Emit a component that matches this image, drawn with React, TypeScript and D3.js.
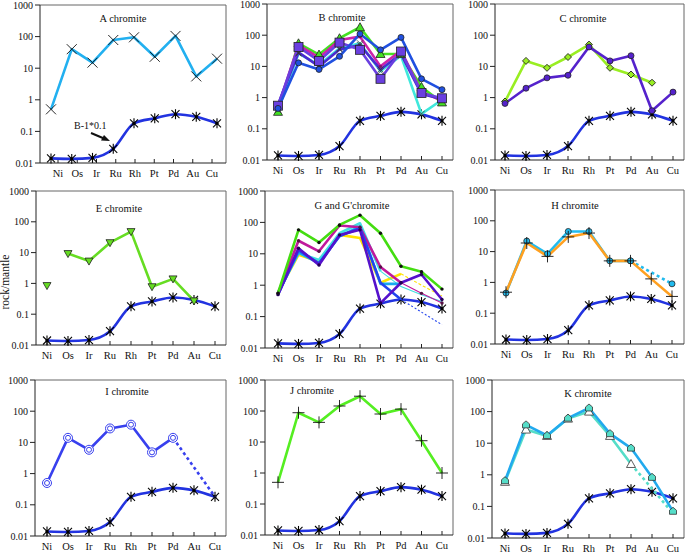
import React from "react";
import * as d3 from "d3";

const categories = ["Ni", "Os", "Ir", "Ru", "Rh", "Pt", "Pd", "Au", "Cu"];
const yTicks = [0.01, 0.1, 1, 10, 100, 1000];
const yTickLabels = ["0.01", "0.1", "1", "10", "100", "1000"];
const N = null;

// reference curve (B-1 * 0.1)
const reference = [0.014, 0.0135, 0.0145, 0.028, 0.18, 0.26, 0.35, 0.29, 0.18];

const aChromite = [0.5, 40, 15, 78, 95, 23, 105, 5.5, 20];

const bGreen = [0.35, 55, 24, 80, 180, 25, 25, 2.2, 0.7];
const bMagenta = [0.5, 48, 19, 70, 90, 10, 32, 1.5, 0.8];
const bCyan = [0.4, 26, 11, 38, 55, 7, 22, 0.3, 0.85];
const bIndigo = [0.6, 28, 10, 35, 48, 8, 25, 1.3, 0.9];
const bPurple = [0.55, 42, 15, 58, 34, 4, 30, 1.4, 0.95];
const bBlue = [0.45, 13, 8, 21, 110, 34, 85, 4, 1.8];

const cGreen = [0.75, 15, 9, 20, 50, 9, 5.5, 3, N];
const cPurple = [0.65, 2, 4.3, 5.2, 42, 15, 22, 0.38, 1.5];

const eGreenNi = [0.85, N, N, N, N, N, N, N, N];
const eGreen = [N, 9.3, 5.3, 21, 48, 0.78, 1.4, 0.27, N];

const gGreen = [0.56, 58, 23, 83, 170, 45, 4, 2.7, 0.75];
const gMagenta = [0.55, 26, 12, 80, 70, 3.8, 1.2, 0.55, 0.27];
const gCyan = [0.6, 10.5, 6.4, 45, 94, 2.8, 0.9, 0.5, 0.3];
const gYellow = [0.6, 9.3, 5.7, 40, 32, 1.2, 2.3, 1.0, 0.45];
const gSky = [0.55, 11, 5, 36, 75, 1.1, 1.1, N, N];
const gBlue = [0.5, 13, 5, 37, 65, 1.2, 0.35, N, 0.055];
const gIndigo = [0.5, 15, 4.4, 40, 58, 0.27, 1.2, 2.2, 0.35];

const hSky = [0.45, 22, 8.5, 45, 45, 5, 5, N, N];
const hSkyDotted = [N, N, N, N, N, N, 5, N, 0.9];
const hOrange = [0.48, 19, 7, 30, 40, 5, 5, 1.3, 0.35];

const iBlue = [0.5, 14, 5.8, 28, 37, 4.8, 14, N, N];
const iBlueDotted = [N, N, N, N, N, N, 14, N, 0.18];

const jGreen = [0.5, 88, 43, 145, 300, 80, 115, 11, 1.0];

const kSky = [0.65, 38, 17.5, 62, 130, 20, 7, 0.83, 0.07];
const kAqua = [0.6, 27, 17, 60, 100, 17, 2.2, N, N];
const kAquaDotted = [N, N, N, N, N, N, 2.2, N, 0.06];

type V = (number | null)[];
interface Series {
  values: V;
  color: string;
  width?: number;
  marker?: string;
  fill?: string;
  dash?: string;
  thinFrom?: number;
  thinDash?: string;
  noLine?: boolean;
}
interface PanelDef {
  title: string;
  tx: number;
  ty: number;
  ax: number;
  x0: number;
  x1: number;
  lx0?: number;
  lx1?: number;
  right: number;
  top: number;
  bottom: number;
  series: Series[];
  note?: boolean;
}

const REF_COLOR = "#2233e0";

const panels: PanelDef[] = [
  {
    title: "A chromite", tx: 123, ty: 22, ax: 40, x0: 51, x1: 217, lx0: 58, lx1: 212, right: 226, top: 5, bottom: 163, note: true,
    series: [{ values: aChromite, color: "#22b0f0", marker: "x" }],
  },
  {
    title: "B chromite", tx: 342, ty: 21, ax: 267, x0: 278, x1: 442, right: 453, top: 4, bottom: 160,
    series: [
      { values: bGreen, color: "#44e022", marker: "tri", fill: "#44e022" },
      { values: bMagenta, color: "#cc22aa", marker: "dot", fill: "#881166" },
      { values: bCyan, color: "#40e8dc", marker: "xs" },
      { values: bIndigo, color: "#4a2ad0", marker: "xs" },
      { values: bPurple, color: "#6a3fe0", marker: "square", fill: "#6a3fe0" },
      { values: bBlue, color: "#2050e0", marker: "circle", fill: "#2050e0" },
    ],
  },
  {
    title: "C chromite", tx: 583, ty: 22, ax: 495, x0: 505, x1: 673, right: 684, top: 4, bottom: 160,
    series: [
      { values: cGreen, color: "#99ee22", marker: "diamond", fill: "#99ee22" },
      { values: cPurple, color: "#5522cc", marker: "circle", fill: "#5522cc" },
    ],
  },
  {
    title: "E chromite", tx: 119, ty: 212, ax: 36, x0: 47, x1: 215, right: 226, top: 191, bottom: 345,
    series: [
      { values: eGreenNi, color: "#66dd22", marker: "triDown", fill: "#66dd22", noLine: true },
      { values: eGreen, color: "#66dd22", marker: "triDown", fill: "#66dd22" },
    ],
  },
  {
    title: "G and G'chromite", tx: 352, ty: 209, ax: 265, x0: 278, x1: 442, right: 453, top: 191, bottom: 348,
    series: [
      { values: gYellow, color: "#ffe400", marker: "none", thinFrom: 6, thinDash: "3,2" },
      { values: gCyan, color: "#40e0e0", marker: "none", thinFrom: 5 },
      { values: gSky, color: "#18a8f0", marker: "none" },
      { values: gMagenta, color: "#c0189c", marker: "dot", fill: "#551144", thinFrom: 6 },
      { values: gBlue, color: "#2244ee", marker: "none", thinFrom: 6, thinDash: "2,2" },
      { values: gIndigo, color: "#5511cc", marker: "dot", fill: "#220055" },
      { values: gGreen, color: "#44dd11", marker: "dot", fill: "#111" },
    ],
  },
  {
    title: "H chromite", tx: 575, ty: 209, ax: 495, x0: 506, x1: 672, right: 684, top: 190, bottom: 344,
    series: [
      { values: hSky, color: "#22bbee", marker: "circle", fill: "#22bbee" },
      { values: hSkyDotted, color: "#22bbee", marker: "circle", fill: "#22bbee", dash: "3,3" },
      { values: hOrange, color: "#ffa020", marker: "plus" },
    ],
  },
  {
    title: "I chromite", tx: 127, ty: 395, ax: 35, x0: 47, x1: 215, right: 226, top: 380, bottom: 536,
    series: [
      { values: iBlue, color: "#3840ee", marker: "circleOpen" },
      { values: iBlueDotted, color: "#3840ee", marker: "none", dash: "3,3" },
    ],
  },
  {
    title: "J chromite", tx: 312, ty: 394, ax: 265, x0: 278, x1: 442, right: 453, top: 380, bottom: 535,
    series: [{ values: jGreen, color: "#55ee22", marker: "plus" }],
  },
  {
    title: "K chromite", tx: 588, ty: 397, ax: 492, x0: 505, x1: 673, right: 684, top: 380, bottom: 538,
    series: [
      { values: kAqua, color: "#55ddc8", marker: "triOpen" },
      { values: kAquaDotted, color: "#55ddc8", marker: "none", dash: "3,3" },
      { values: kSky, color: "#22aaee", marker: "house", fill: "#55ddc8" },
    ],
  },
];

const FONT = "'Liberation Serif', 'Times New Roman', serif";

function Marker({ type, x, y, fill }: { type: string; x: number; y: number; fill?: string }) {
  const s = "#222";
  switch (type) {
    case "asterisk":
      return (
        <g stroke="#000" strokeWidth={1.1}>
          <line x1={x - 4} y1={y - 4} x2={x + 4} y2={y + 4} />
          <line x1={x - 4} y1={y + 4} x2={x + 4} y2={y - 4} />
          <line x1={x} y1={y - 5} x2={x} y2={y + 5} />
          <circle cx={x} cy={y} r={1.6} fill="#000" stroke="none" />
        </g>
      );
    case "x":
      return (
        <g stroke="#111" strokeWidth={0.9}>
          <line x1={x - 5} y1={y - 5} x2={x + 5} y2={y + 5} />
          <line x1={x - 5} y1={y + 5} x2={x + 5} y2={y - 5} />
        </g>
      );
    case "xs":
      return (
        <g stroke="#333" strokeWidth={0.8}>
          <line x1={x - 3} y1={y - 3} x2={x + 3} y2={y + 3} />
          <line x1={x - 3} y1={y + 3} x2={x + 3} y2={y - 3} />
        </g>
      );
    case "plus":
      return (
        <g stroke="#111" strokeWidth={0.9}>
          <line x1={x - 6} y1={y} x2={x + 6} y2={y} />
          <line x1={x} y1={y - 6} x2={x} y2={y + 6} />
        </g>
      );
    case "circle":
      return <circle cx={x} cy={y} r={3} fill={fill} stroke={s} strokeWidth={0.8} />;
    case "circleOpen":
      return (
        <g fill="none" stroke="#3840ee" strokeWidth={1}>
          <circle cx={x} cy={y} r={4.5} fill="#fff" />
          <circle cx={x} cy={y} r={2.5} />
        </g>
      );
    case "dot":
      return <circle cx={x} cy={y} r={1.7} fill={fill || "#111"} />;
    case "tri":
      return <path d={`M${x},${y - 4.5}L${x + 4.5},${y + 3.5}L${x - 4.5},${y + 3.5}Z`} fill={fill} stroke={s} strokeWidth={0.8} />;
    case "triDown":
      return <path d={`M${x - 4},${y - 3}L${x + 4},${y - 3}L${x},${y + 4}Z`} fill={fill} stroke={s} strokeWidth={0.8} />;
    case "triOpen":
      return <path d={`M${x},${y - 4.5}L${x + 4.5},${y + 3.5}L${x - 4.5},${y + 3.5}Z`} fill="#fff" stroke="#333" strokeWidth={0.8} />;
    case "square":
      return <rect x={x - 4.5} y={y - 4.5} width={9} height={9} fill={fill} stroke={s} strokeWidth={0.8} />;
    case "diamond":
      return <path d={`M${x},${y - 3.5}L${x + 3.5},${y}L${x},${y + 3.5}L${x - 3.5},${y}Z`} fill={fill} stroke={s} strokeWidth={0.9} />;
    case "house":
      return <path d={`M${x},${y - 4}L${x + 3.5},${y - 1}L${x + 3.5},${y + 3}L${x - 3.5},${y + 3}L${x - 3.5},${y - 1}Z`} fill={fill} stroke="#333" strokeWidth={0.8} />;
    default:
      return null;
  }
}

function Panel({ p }: { p: PanelDef }) {
  const x = d3.scalePoint<string>().domain(categories).range([p.x0, p.x1]);
  const lx = d3.scalePoint<string>().domain(categories).range([p.lx0 ?? p.x0, p.lx1 ?? p.x1]);
  const y = d3.scaleLog().domain([0.01, 1000]).range([p.bottom, p.top]);
  type P = { i: number; v: number };
  const line = d3.line<P>().x((d) => x(categories[d.i])!).y((d) => y(d.v));
  const refLine = d3
    .line<P>()
    .x((d) => x(categories[d.i])!)
    .y((d) => y(d.v))
    .curve(d3.curveMonotoneX);
  const pts = (vals: V): P[] =>
    vals.map((v, i) => ({ i, v: v as number })).filter((d) => d.v !== null && d.v !== undefined);
  const refPts = pts(reference);

  return (
    <g>
      {/* frame */}
      <path d={`M${p.ax},${p.top}H${p.right}V${p.bottom}`} fill="none" stroke="#666" strokeWidth={1} />
      {/* axes */}
      <line x1={p.ax} y1={p.top} x2={p.ax} y2={p.bottom} stroke="#222" strokeWidth={1} />
      <line x1={p.ax} y1={p.bottom} x2={p.right} y2={p.bottom} stroke="#222" strokeWidth={1} />
      {yTicks.map((t, k) => (
        <g key={t}>
          <line x1={p.ax - 5} x2={p.ax} y1={y(t)} y2={y(t)} stroke="#222" />
          <text
            x={p.ax - 7}
            y={y(t)}
            dy="0.35em"
            textAnchor="end"
            fontSize={10}
            fontFamily={FONT}
            fill="#111"
          >
            {yTickLabels[k]}
          </text>
        </g>
      ))}
      {categories.map((c) => (
        <g key={c}>
          <line x1={lx(c)} x2={lx(c)} y1={p.bottom} y2={p.bottom - 4} stroke="#222" />
          <text x={lx(c)} y={p.bottom + 14} textAnchor="middle" fontSize={10.5} fontFamily={FONT} fill="#111">
            {c}
          </text>
        </g>
      ))}
      <text x={p.tx} y={p.ty} textAnchor="middle" fontSize={10.5} fontFamily={FONT} fill="#111">
        {p.title}
      </text>

      {/* reference */}
      <path d={refLine(refPts) || ""} fill="none" stroke={REF_COLOR} strokeWidth={2.6} />
      {refPts.map((d) => (
        <Marker key={d.i} type="asterisk" x={x(categories[d.i])!} y={y(d.v)} />
      ))}

      {/* series lines */}
      {p.series.map((s, si) => {
        if (s.noLine) return null;
        const ps = pts(s.values);
        if (s.thinFrom !== undefined) {
          const a = ps.filter((d) => d.i <= s.thinFrom!);
          const b = ps.filter((d) => d.i >= s.thinFrom!);
          return (
            <g key={si}>
              <path d={line(a) || ""} fill="none" stroke={s.color} strokeWidth={2.6} strokeLinejoin="round" />
              <path d={line(b) || ""} fill="none" stroke={s.color} strokeWidth={1.1} strokeDasharray={s.thinDash} />
            </g>
          );
        }
        return (
          <path
            key={si}
            d={line(ps) || ""}
            fill="none"
            stroke={s.color}
            strokeWidth={s.width ?? 2.6}
            strokeDasharray={s.dash}
            strokeLinejoin="round"
          />
        );
      })}
      {/* series markers */}
      {p.series.map((s, si) =>
        pts(s.values).map((d) => (
          <Marker key={`${si}-${d.i}`} type={s.marker || "none"} x={x(categories[d.i])!} y={y(d.v)} fill={s.fill} />
        ))
      )}

      {p.note && (
        <g>
          <text x={74} y={129} fontSize={10} fontFamily={FONT} fill="#111">
            B-1*0.1
          </text>
          <line x1={91} y1={133} x2={104} y2={138.5} stroke="#111" strokeWidth={2} />
          <path d="M110,141 L101,140.5 L104,135 Z" fill="#111" />
        </g>
      )}
    </g>
  );
}

export default function App() {
  return (
    <svg
      width={685}
      height={554}
      style={{ position: "absolute", left: 0, top: 0, background: "#fff" }}
      viewBox="0 0 685 554"
    >
      <rect width={685} height={554} fill="#fff" />
      {panels.map((p) => (
        <Panel key={p.title} p={p} />
      ))}
      <text
        transform="translate(9,282) rotate(-90)"
        textAnchor="middle"
        fontSize={11.5}
        fontFamily={FONT}
        fill="#111"
      >
        rock/mantle
      </text>
    </svg>
  );
}
